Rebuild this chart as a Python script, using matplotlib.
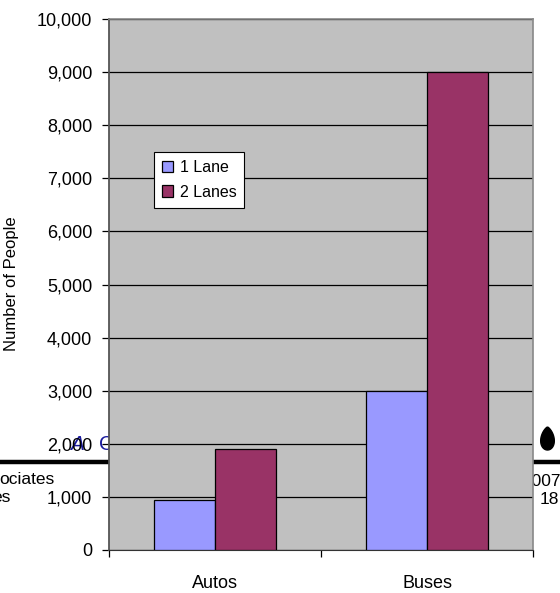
import numpy as np
import matplotlib.pyplot as plt
from matplotlib.path import Path
from matplotlib.patches import PathPatch
from matplotlib.ticker import FuncFormatter, FixedLocator, NullFormatter

plt.rcParams["font.family"] = ["Liberation Sans", "DejaVu Sans"]

# ---- data ----
categories = ["Autos", "Buses"]
series_names = ["1 Lane", "2 Lanes"]
one_lane = [950, 3000]
two_lanes = [1900, 9000]
y_ticks = list(range(0, 10001, 1000))

colors = ["#9999ff", "#993366"]

W, H = 560, 593
fig = plt.figure(figsize=(W / 100, H / 100), dpi=100)


def fx(px):
    return px / W


def fy(py):
    return 1 - py / H


# slide remnants behind the chart
fig.add_artist(plt.Line2D([0, 1], [fy(462)] * 2, color="black", lw=3.2,
                          transform=fig.transFigure, zorder=-5))
fig.text(fx(55), fy(479), "ociates", ha="right", va="center",
         fontsize=12.5, zorder=-5)
fig.text(fx(11), fy(498), "es", ha="right", va="center",
         fontsize=12.5, zorder=-5)
fig.text(fx(522), fy(481), "2007", ha="left", va="center",
         fontsize=12.5, zorder=-5)
fig.text(fx(540), fy(499), "18", ha="left", va="center",
         fontsize=12.5, zorder=-5)
fig.text(fx(70), fy(445), "A", ha="left", va="center",
         fontsize=15, color="#1a1a9e", style="italic", zorder=-5)
fig.text(fx(99), fy(445), "C", ha="left", va="center",
         fontsize=15, color="#1a1a9e", zorder=-5)

# drop symbol at the right
t = np.linspace(0, 2 * np.pi, 80)
dx = 547.5 + 7.9 * np.sin(t) * np.sqrt(np.abs(np.sin(t / 2)))
dy = 438.5 - 11.5 * np.cos(t)
drop = np.column_stack([fx(dx), fy(dy)])
fig.add_artist(PathPatch(Path(drop), color="black", transform=fig.transFigure,
                         zorder=-5))

ax = fig.add_axes([fx(109), 43 / H, 424 / W, 531 / H])
ax.set_facecolor("#c0c0c0")

x = np.arange(len(categories))
w = 0.288
ax.bar(x - w / 2, one_lane, w, color=colors[0], edgecolor="black", lw=0.9,
       label=series_names[0], zorder=3)
ax.bar(x + w / 2, two_lanes, w, color=colors[1], edgecolor="black", lw=0.9,
       label=series_names[1], zorder=3)

ax.set_xlim(-0.5, len(categories) - 0.5)
ax.set_ylim(0, 10000)
ax.set_yticks(y_ticks)
ax.yaxis.set_major_formatter(FuncFormatter(lambda v, p: f"{v:,.0f}"))
ax.yaxis.grid(True, color="black", lw=0.9, zorder=1)
ax.set_axisbelow(True)

ax.xaxis.set_major_locator(FixedLocator([-0.5, 0.5, 1.5]))
ax.xaxis.set_major_formatter(NullFormatter())
ax.xaxis.set_minor_locator(FixedLocator(x))
ax.set_xticklabels(categories, minor=True)
ax.tick_params(axis="x", which="minor", length=0, pad=18, labelsize=13)
ax.tick_params(axis="x", which="major", length=5, width=0.9, direction="out")
ax.tick_params(axis="y", length=5, width=0.9, direction="out", pad=7,
               labelsize=13)

ax.spines["left"].set_color("#555555")
ax.spines["left"].set_linewidth(1.3)
ax.spines["bottom"].set_color("#333333")
for s in ("top", "right"):
    ax.spines[s].set_color("#888888")
    ax.spines[s].set_linewidth(1.2)

ax.set_ylabel("Number of People", fontsize=12)
ax.yaxis.set_label_coords(-(109 - 19.5) / 424, (550 - 284) / 531)

leg = ax.legend(loc="upper left", bbox_to_anchor=((154 - 109) / 424, (550 - 152) / 531),
                fontsize=11.5, frameon=True, fancybox=False, framealpha=1,
                edgecolor="black", handlelength=0.7, handleheight=0.7,
                handletextpad=0.4, borderpad=0.5, labelspacing=0.6,
                borderaxespad=0)
leg.get_frame().set_linewidth(0.8)

fig.savefig("out.png", dpi=100)
